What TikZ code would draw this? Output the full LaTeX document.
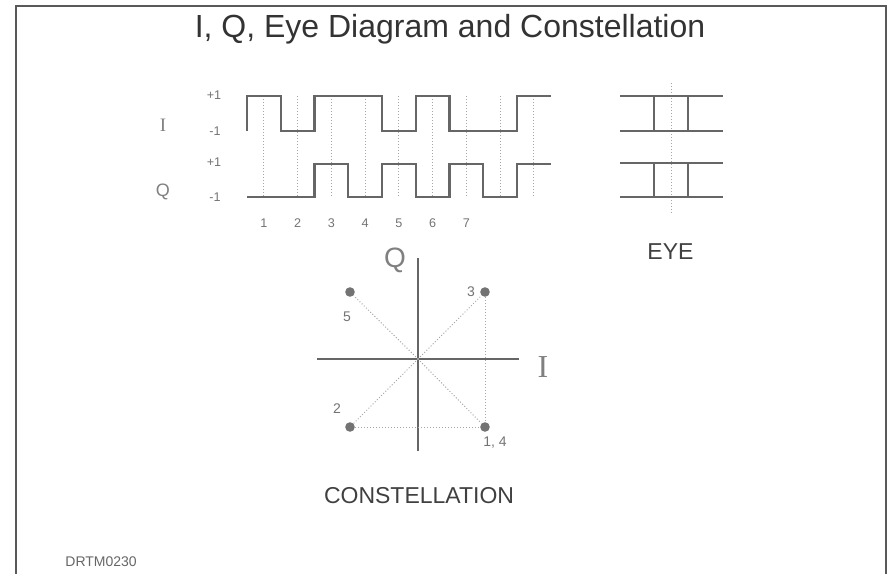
\documentclass[tikz,border=0pt]{standalone}
\usepackage{fontspec}
\setmainfont{Liberation Sans}
\newfontfamily\serifI{Liberation Serif}
\usepackage{tikz}
\usetikzlibrary{positioning}

\tikzset{
  frameline/.style={line width=1.2pt, black!65},
  wave/.style={line width=1.1pt, black!60, line join=miter},
  gridline/.style={densely dotted, line width=0.5pt, black!35},
  lvl/.style={text=black!55, font=\fontsize{6.3}{7}\selectfont, inner sep=0pt},
  axislabel/.style={text=black!50, inner sep=0pt},
  caption/.style={text=black!75, font=\fontsize{11.5}{13}\selectfont, inner sep=0pt},
  dotpt/.style={circle, fill=black!55, minimum size=4.8pt, inner sep=0pt},
}

\begin{document}
\begin{tikzpicture}[x=0.5pt, y=-0.5pt]
    \useasboundingbox (0,0) rectangle (896,574);

    % --- FRAME ---
    \draw[frameline] (16,574) -- (16,6) -- (886,6) -- (886,574);
    \node[text=black!80, font=\fontsize{16}{18}\selectfont, inner sep=0pt] (title) at (450,29) {I, Q, Eye Diagram and Constellation};

    % --- I AND Q WAVEFORMS ---
    % dotted sample lines at bit centres
    \foreach \k in {0,...,8} \draw[gridline] ({263.9+33.75*\k}, 96) -- ({263.9+33.75*\k}, 197);
    \foreach \k in {1,...,7} \node[lvl] (n\k) at ({230.1+33.75*\k}, 223) {\k};

    % I channel
    \draw[wave] (247,131) -- (247,96) -- (280.75,96) -- (280.75,131) -- (314.5,131) -- (314.5,96)
        -- (382,96) -- (382,131) -- (415.75,131) -- (415.75,96) -- (449.5,96) -- (449.5,131)
        -- (517,131) -- (517,96) -- (551,96);
    % Q channel
    \draw[wave] (247,197) -- (314.5,197) -- (314.5,164) -- (348.25,164) -- (348.25,197) -- (382,197)
        -- (382,164) -- (415.75,164) -- (415.75,197) -- (449.5,197) -- (449.5,164) -- (483.25,164)
        -- (483.25,197) -- (517,197) -- (517,164) -- (551,164);

    % level labels
    \node[lvl] (ihi) at (214,95) {+1};
    \node[lvl] (ilo) at (215,131) {-1};
    \node[lvl] (qhi) at (214,162) {+1};
    \node[lvl] (qlo) at (215,197) {-1};
    \node[axislabel, font=\serifI\fontsize{9.5}{10}\selectfont] (ilab) at (163,125) {I};
    \node[axislabel, font=\fontsize{9}{10}\selectfont] (qlab) at (163,192) {Q};

    % --- EYE DIAGRAM ---
    \draw[gridline] (671,83) -- (671,215);
    \foreach \y in {96,131,163,197} \draw[wave] (620,\y) -- (723,\y);
    \foreach \x in {654,688} {
        \draw[wave] (\x,96) -- (\x,131);
        \draw[wave] (\x,163) -- (\x,197);
    }
    \node[caption] (eye) at (670.5,252) {EYE};

    % --- CONSTELLATION ---
    \draw[line width=0.6pt, black!60] (418,258) -- (418,451);
    \draw[line width=0.6pt, black!60] (317,359) -- (519,359);
    \coordinate (o) at (418,359);
    \node[dotpt] (p5) at (350,292) {};
    \node[dotpt] (p3) at (485,292) {};
    \node[dotpt] (p2) at (350,427) {};
    \node[dotpt] (p14) at (485,427) {};
    \foreach \p in {p5,p3,p2,p14} \draw[gridline] (o) -- (\p);
    \draw[gridline] (p3) -- (p14);
    \draw[gridline] (p2) -- (p14);

    \node[axislabel, font=\fontsize{14}{16}\selectfont] (cq) at (395,260) {Q};
    \node[axislabel, font=\serifI\fontsize{16}{18}\selectfont] (ci) at (543,367) {I};
    \node[lvl, font=\fontsize{7}{8}\selectfont] (l5) at (347,317) {5};
    \node[lvl, font=\fontsize{7}{8}\selectfont] (l3) at (471,292) {3};
    \node[lvl, font=\fontsize{7}{8}\selectfont] (l2) at (337,409) {2};
    \node[lvl, font=\fontsize{7}{8}\selectfont] (l14) at (495,443) {1, 4};
    \node[caption] (const) at (419,496) {CONSTELLATION};

    \node[text=black!60, font=\fontsize{7}{8}\selectfont, inner sep=0pt, anchor=west] (code) at (65,562) {DRTM0230};
\end{tikzpicture}
\end{document}
